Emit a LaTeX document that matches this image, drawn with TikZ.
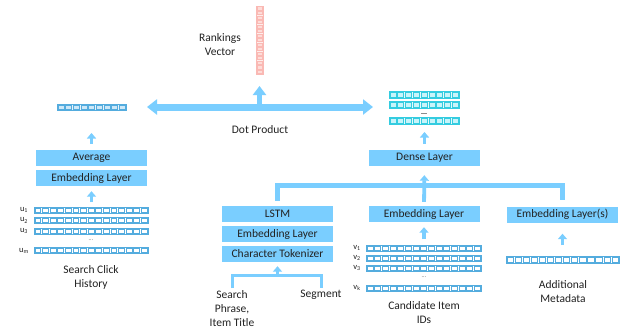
\documentclass[tikz,border=0pt]{standalone}
\usepackage{fontspec}
\setmainfont{Carlito}
\usetikzlibrary{arrows.meta,fit}
\definecolor{boxblue}{RGB}{122,206,255}
\definecolor{cellblue}{RGB}{84,172,222}
\definecolor{cellfill}{RGB}{205,232,248}
\definecolor{tealb}{RGB}{52,204,224}
\definecolor{tealf}{RGB}{200,244,250}
\definecolor{pinkb}{RGB}{250,185,180}
\definecolor{pinkf}{RGB}{253,220,216}
\definecolor{txt}{RGB}{34,34,34}
% horizontal cell vector: name, x1, y1, x2, y2, cells, border, cell fill
\newcommand\hvec[8]{%
  \draw[#7, fill=#8!50!white, line width=0.6pt] (#2,#3) rectangle (#4,#5);
  \foreach \i in {1,...,#6}{%
    \pgfmathsetmacro\xa{#2+(\i-1)*(#4-#2)/#6+0.9}%
    \pgfmathsetmacro\xb{#2+\i*(#4-#2)/#6-0.9}%
    \draw[#7, fill=#8, line width=0.5pt] (\xa,#3+0.9) rectangle (\xb,#5-0.9);
  }%
  \node[inner sep=0pt, outer sep=0pt, fit={(#2,#3) (#4,#5)}] (#1) {};
}
% vertical cell vector
\newcommand\vvec[8]{%
  \draw[#7, fill=#8!50!white, line width=0.6pt] (#2,#3) rectangle (#4,#5);
  \foreach \i in {1,...,#6}{%
    \pgfmathsetmacro\ya{#3+(\i-1)*(#5-#3)/#6+0.7}%
    \pgfmathsetmacro\yb{#3+\i*(#5-#3)/#6-0.7}%
    \draw[#7, fill=#8, line width=0.5pt] (#2+0.9,\ya) rectangle (#4-0.9,\yb);
  }%
  \node[inner sep=0pt, outer sep=0pt, fit={(#2,#3) (#4,#5)}] (#1) {};
}
\tikzset{
  layer/.style={fill=boxblue, minimum width=111pt, minimum height=16pt, inner sep=0pt,
    font=\fontsize{11.5}{12}\selectfont, text=txt},
  lbl/.style={align=center, font=\fontsize{11.5}{14}\selectfont, text=txt, inner sep=0pt},
  sub/.style={font=\fontsize{8.5}{9}\selectfont, text=txt, inner sep=0pt},
  dots/.style={font=\fontsize{6}{6}\selectfont, text=black!60, inner sep=0pt},
  uparrow/.style={draw=boxblue, line width=3.8pt, -{Triangle[width=9pt,length=5.5pt]}},
  midarrow/.style={draw=boxblue, line width=5pt, -{Triangle[width=13pt,length=9pt]}},
  bigarrow/.style={draw=boxblue, line width=7pt,
    {Triangle[width=15pt,length=10pt]}-{Triangle[width=15pt,length=10pt]}},
  bus/.style={draw=boxblue, line width=5pt},
  bracket/.style={draw=boxblue, line width=3.5pt},
}
\begin{document}
\begin{tikzpicture}[x=1pt,y=-1pt]
\useasboundingbox (0,0) rectangle (624,333);
\fill[white] (0,0) rectangle (624,333);

% ---------- left: search click history ----------
\hvec{uvec}{57}{104}{126}{110}{9}{cellblue}{cellfill}
\node[layer] (avg) at (91.5,158) {Average};
\node[layer] (emb1) at (91.5,178) {Embedding Layer};
\hvec{u1}{34}{207}{148}{213}{15}{cellblue}{white}
\hvec{u2}{34}{217}{148}{223.5}{15}{cellblue}{white}
\hvec{u3}{34}{228}{148}{234}{15}{cellblue}{white}
\node[dots] (ud) at (91,240) {...};
\hvec{um}{34}{247}{148}{253}{15}{cellblue}{white}
\node[sub] (lu1) at (24,210) {u\textsubscript{1}};
\node[sub] (lu2) at (24,220.5) {u\textsubscript{2}};
\node[sub] (lu3) at (24,231) {u\textsubscript{3}};
\node[sub] (lum) at (24,251) {u\textsubscript{m}};
\node[lbl] (tsc) at (91,277) {Search Click\\History};
\draw[uparrow, shorten <=5pt, shorten >=5pt] (u1.north -| emb1.south) -- (emb1.south);
\draw[uparrow, shorten <=6pt, shorten >=23pt] (avg.north) -- (avg.north |- uvec.south);

% ---------- rankings ----------
\vvec{rv}{256}{6}{263}{74}{15}{pinkb}{pinkf}
\node[lbl] (trv) at (220,45) {Rankings\\Vector};

% ---------- right: item vectors ----------
\hvec{iv1}{389}{91}{459}{98}{9}{tealb}{tealf}
\hvec{iv2}{389}{101}{459}{108}{9}{tealb}{tealf}
\draw[black!45, line width=0.8pt] (421,113) -- (427,113);
\hvec{iv3}{389}{117}{459}{124}{9}{tealb}{tealf}
\node[layer] (dense) at (424.5,158) {Dense Layer};
\draw[uparrow, shorten <=6pt, shorten >=8pt] (dense.north) -- (dense.north |- iv3.south);

% ---------- dot product ----------
\coordinate (dpL) at (126,107);
\coordinate (dpR) at (389,107);
\coordinate (dpM) at (259.5,107);
\draw[bigarrow, shorten <=21pt, shorten >=16pt] (dpL) -- (dpR);
\draw[midarrow, shorten >=12pt] (dpM) -- (rv.south);
\node[lbl] (tdp) at (260,130) {Dot Product};

% ---------- lower branches ----------
\node[layer] (lstm) at (277.5,214) {LSTM};
\node[layer] (emb3) at (277.5,234) {Embedding Layer};
\node[layer] (ctok) at (277.5,254) {Character Tokenizer};
\node[layer] (emb2) at (424,214) {Embedding Layer};
\node[layer] (embs) at (562.5,214.5) {Embedding Layer(s)};

\draw[bus] ([yshift=5pt]lstm.north) -- ([yshift=20pt]lstm.north) -| ([yshift=6pt]embs.north);
\draw[uparrow, shorten <=4pt, shorten >=9pt] (emb2.north) -- (dense.south);

% tokenizer inputs
\coordinate (brL) at (232.5,288);
\coordinate (brR) at (321.5,288);
\coordinate (brT) at (277.5,275.5);
\draw[bracket] (brL) |- (brT) -| (brR);
\draw[uparrow, shorten >=4pt] (brT) -- (ctok.south);
\node[lbl, anchor=north] (tsp) at (232,290) {Search\\Phrase,\\Item Title};
\node[lbl, anchor=north] (tseg) at (321,290) {Segment};

% candidate items
\hvec{v1}{366}{245}{481}{251}{15}{cellblue}{white}
\hvec{v2}{366}{255}{481}{261}{15}{cellblue}{white}
\hvec{v3}{366}{265}{481}{271}{15}{cellblue}{white}
\node[dots] (vd) at (424,277) {...};
\hvec{vk}{366}{285}{481}{291}{15}{cellblue}{white}
\node[sub] (lv1) at (357,248) {v\textsubscript{1}};
\node[sub] (lv2) at (357,258) {v\textsubscript{2}};
\node[sub] (lv3) at (357,268) {v\textsubscript{3}};
\node[sub] (lvk) at (357,288) {v\textsubscript{k}};
\node[lbl] (tci) at (424,313) {Candidate Item\\IDs};
\draw[uparrow, shorten <=6pt, shorten >=5pt] (v1.north -| emb2.south) -- (emb2.south);

% additional metadata
\hvec{meta}{506}{256}{619}{263}{14}{cellblue}{white}
\node[lbl] (tam) at (563,292) {Additional\\Metadata};
\draw[uparrow, shorten <=11pt, shorten >=11pt] (meta.north -| embs.south) -- (embs.south);
\end{tikzpicture}
\end{document}
